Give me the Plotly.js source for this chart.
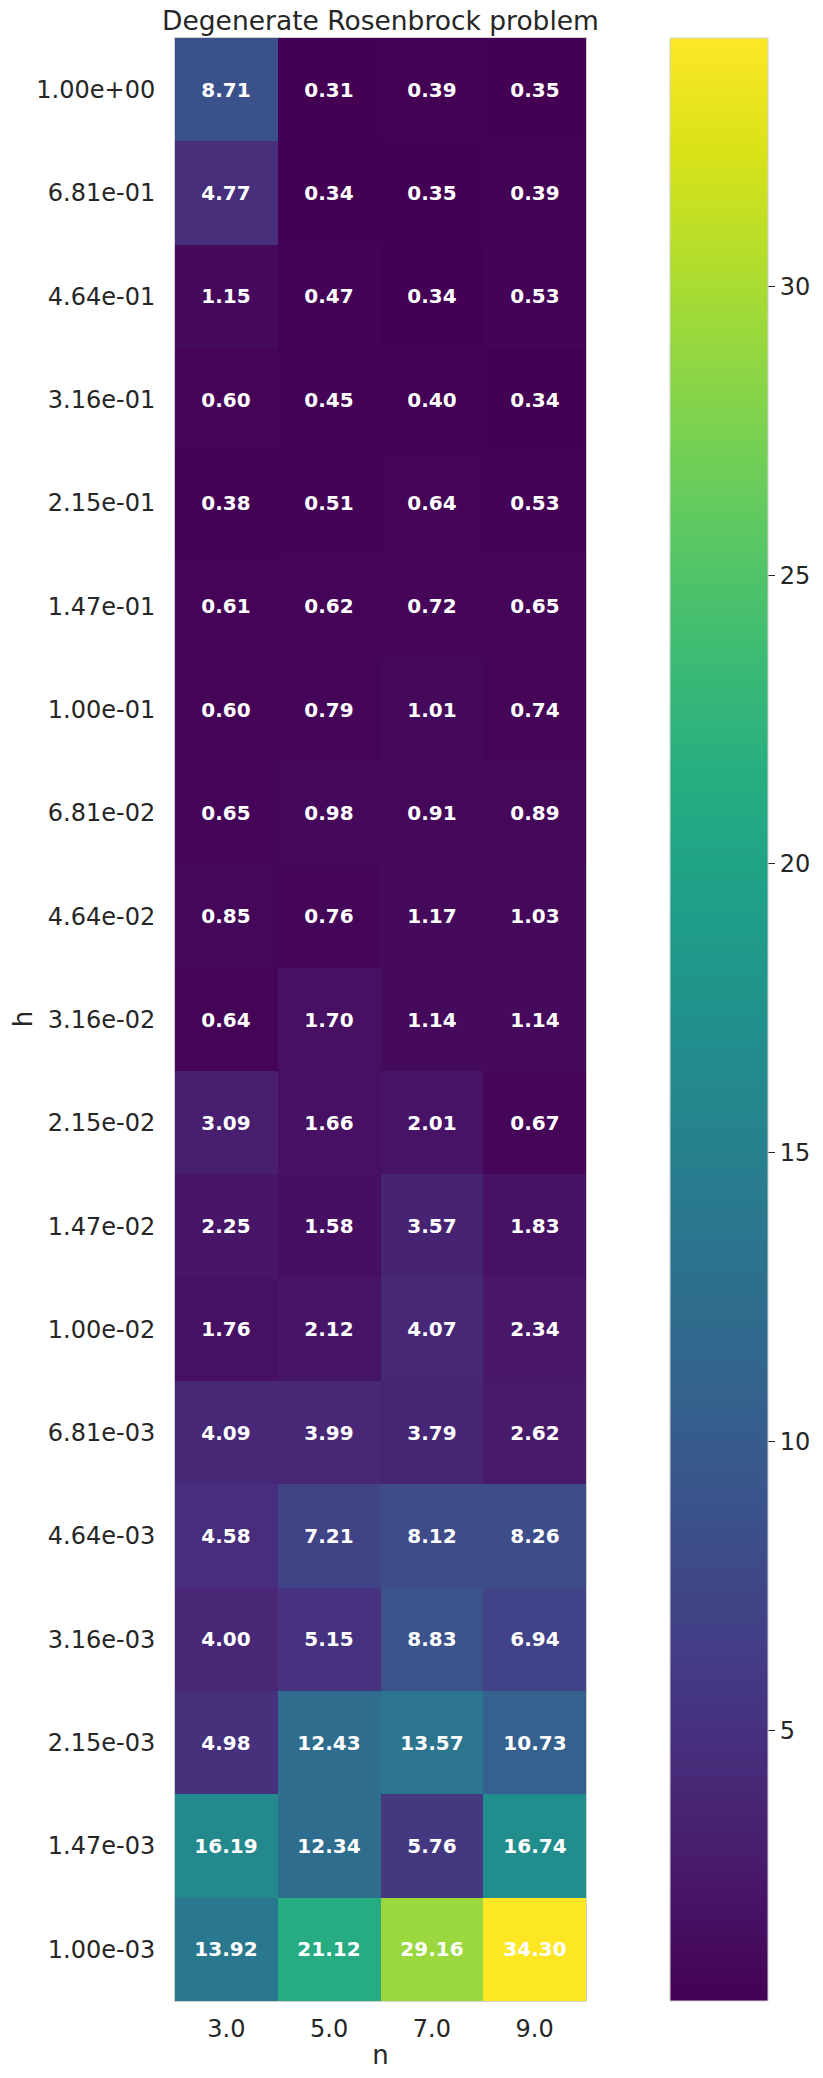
<!DOCTYPE html>
<html>
<head>
<meta charset="utf-8">
<script src="https://cdn.plot.ly/plotly-3.0.1.min.js"></script>
<style>
  html, body { margin: 0; padding: 0; background: #fff; }
  #chart { width: 823px; height: 2078px; }
</style>
</head>
<body>
<div id="chart"></div>
<script>
// Degenerate Rosenbrock problem - heatmap of h vs n

const nLabels = ['3.0', '5.0', '7.0', '9.0'];
const hLabels = ['1.00e+00', '6.81e-01', '4.64e-01', '3.16e-01', '2.15e-01', '1.47e-01',
                 '1.00e-01', '6.81e-02', '4.64e-02', '3.16e-02', '2.15e-02', '1.47e-02',
                 '1.00e-02', '6.81e-03', '4.64e-03', '3.16e-03', '2.15e-03', '1.47e-03', '1.00e-03'];

// one array per column of n, top row (h = 1) first
const n3 = [8.71, 4.77, 1.15, 0.60, 0.38, 0.61, 0.60, 0.65, 0.85, 0.64, 3.09, 2.25, 1.76, 4.09, 4.58, 4.00, 4.98, 16.19, 13.92];
const n5 = [0.31, 0.34, 0.47, 0.45, 0.51, 0.62, 0.79, 0.98, 0.76, 1.70, 1.66, 1.58, 2.12, 3.99, 7.21, 5.15, 12.43, 12.34, 21.12];
const n7 = [0.39, 0.35, 0.34, 0.40, 0.64, 0.72, 1.01, 0.91, 1.17, 1.14, 2.01, 3.57, 4.07, 3.79, 8.12, 8.83, 13.57, 5.76, 29.16];
const n9 = [0.35, 0.39, 0.53, 0.34, 0.53, 0.65, 0.74, 0.89, 1.03, 1.14, 0.67, 1.83, 2.34, 2.62, 8.26, 6.94, 10.73, 16.74, 34.30];

const cbTicks = [5, 10, 15, 20, 25, 30];

function initializeChart() {
    const z = hLabels.map((_, i) => [n3[i], n5[i], n7[i], n9[i]]);
    const all = [].concat(n3, n5, n7, n9);
    const zmin = Math.min(...all);
    const zmax = Math.max(...all);

    const textColor = '#262626';
    const font = 'DejaVu Sans, sans-serif';

    const plotLeft = 175, plotRight = 588, plotTop = 38, plotBottom = 2001;
    const plotW = plotRight - plotLeft;

    Plotly.newPlot('chart', [{
        type: 'heatmap',
        x: nLabels,
        y: hLabels,
        z: z,
        zmin: zmin,
        zmax: zmax,
        colorscale: 'Viridis',
        xgap: 0,
        ygap: 0,
        texttemplate: '%{z:.2f}',
        textfont: { family: font, size: 20, color: '#ffffff', weight: 'bold' },
        hoverinfo: 'skip',
        colorbar: {
            x: (672 - plotLeft) / plotW,
            xanchor: 'left',
            xpad: 0,
            ypad: 0,
            y: 0.5,
            len: 1,
            lenmode: 'fraction',
            thickness: 98,
            thicknessmode: 'pixels',
            outlinecolor: '#d0d0d0',
            outlinewidth: 1,
            tickvals: cbTicks,
            ticks: 'outside',
            ticklen: 7,
            tickwidth: 1,
            tickcolor: textColor,
            tickfont: { family: font, size: 24, color: textColor }
        }
    }], {
        width: 823,
        height: 2078,
        paper_bgcolor: '#ffffff',
        plot_bgcolor: '#ffffff',
        margin: { l: plotLeft, r: 823 - plotRight, t: plotTop, b: 2078 - plotBottom },
        font: { family: font, color: textColor },
        title: {
            text: 'Degenerate Rosenbrock problem',
            font: { family: font, size: 26.5, color: textColor },
            x: 0.5,
            xref: 'paper',
            y: 1,
            yref: 'paper',
            yanchor: 'bottom',
            pad: { b: 8 }
        },
        xaxis: {
            type: 'category',
            title: { text: 'n', font: { family: font, size: 26, color: textColor }, standoff: 4 },
            tickfont: { family: font, size: 24, color: textColor },
            ticks: '',
            ticklabelstandoff: 6,
            showgrid: false,
            zeroline: false,
            showline: true,
            linecolor: '#d0d0d0',
            mirror: true,
            automargin: false
        },
        yaxis: {
            type: 'category',
            autorange: 'reversed',
            tickfont: { family: font, size: 24, color: textColor },
            ticks: '',
            ticklabelstandoff: 14,
            showgrid: false,
            zeroline: false,
            showline: true,
            linecolor: '#d0d0d0',
            mirror: true,
            automargin: false
        },
        // y axis title placed by hand so it sits where the reference has it
        annotations: [{
            text: 'h',
            xref: 'paper',
            yref: 'paper',
            x: (22 - plotLeft) / plotW,
            y: 0.5,
            xanchor: 'center',
            yanchor: 'middle',
            textangle: -90,
            showarrow: false,
            font: { family: font, size: 26, color: textColor }
        }]
    }, { displayModeBar: false, staticPlot: true });
}

initializeChart();
</script>
</body>
</html>
